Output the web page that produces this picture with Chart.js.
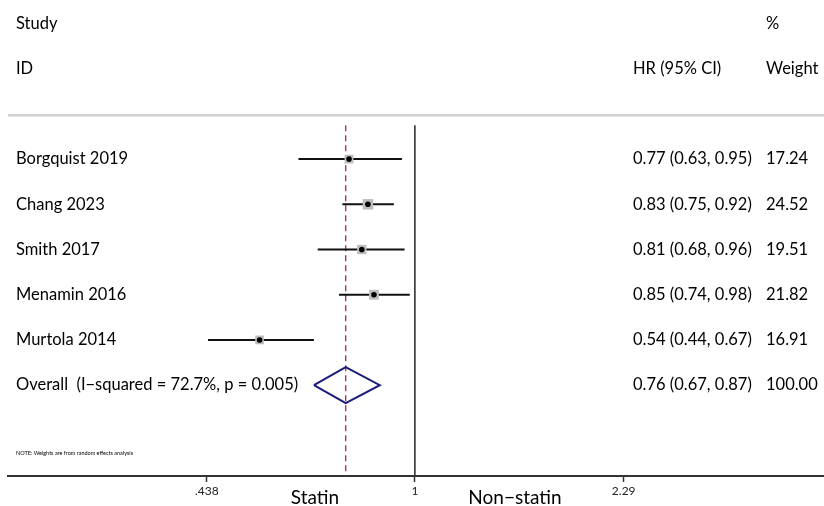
<!DOCTYPE html>
<html>
<head>
<meta charset="utf-8">
<script src="https://cdn.jsdelivr.net/npm/chart.js@4.4.0/dist/chart.umd.min.js"></script>
<style>
	html, body { margin: 0; padding: 0; background: #fff; }
	#wrap { width: 824px; height: 506px; }
</style>
</head>
<body>
<div id="wrap"><canvas id="forest"></canvas></div>
<script>
const studies = ["Borgquist 2019", "Chang 2023", "Smith 2017", "Menamin 2016", "Murtola 2014"];
const hr = [0.77, 0.83, 0.81, 0.85, 0.54];
const lower = [0.63, 0.75, 0.68, 0.74, 0.44];
const upper = [0.95, 0.92, 0.96, 0.98, 0.67];
const weights = [17.24, 24.52, 19.51, 21.82, 16.91];

const overallLabel = "Overall  (I\u2212squared = 72.7%, p = 0.005)";
const overallHr = 0.76;
const overallLower = 0.67;
const overallUpper = 0.87;
const overallWeight = "100.00";

const tickValues = [0.438, 1, 2.29];
const tickLabels = [".438", "1", "2.29"];
const sideLabels = ["Statin", "Non\u2212statin"];
const note = "NOTE: Weights are from random effects analysis";

const FONT = "Lato";
const fmt = (v) => v.toFixed(2);
const overallRow = studies.length + 1;
const bottomRow = 8.01;

// lower order = drawn on top
const ciSets = studies.map((s, i) => ({
	data: [{ x: lower[i], y: i + 1 }, { x: upper[i], y: i + 1 }],
	borderColor: "#111",
	borderWidth: 2,
	pointRadius: 0,
	showLine: true,
	order: 3,
}));

const datasets = [
	// grey header rule
	{
		data: [{ x: 0.19, y: 0.03 }, { x: 5.2, y: 0.03 }],
		borderColor: "#d0d0d0",
		borderWidth: 2.5,
		pointRadius: 0,
		showLine: true,
		order: 6,
	},
	// no-effect line
	{
		data: [{ x: 1, y: 0.25 }, { x: 1, y: bottomRow }],
		borderColor: "#333",
		borderWidth: 1.6,
		pointRadius: 0,
		showLine: true,
		order: 5,
	},
	// overall estimate line
	{
		data: [{ x: overallHr, y: 0.25 }, { x: overallHr, y: bottomRow }],
		borderColor: "#a3303f",
		borderWidth: 1.3,
		borderDash: [6, 4],
		pointRadius: 0,
		showLine: true,
		order: 4,
	},
	...ciSets,
	// weight boxes
	{
		data: hr.map((v, i) => ({ x: v, y: i + 1 })),
		pointStyle: "rect",
		pointRadius: weights.map((w) => 1.5 * Math.sqrt(w)),
		backgroundColor: "#bdbdbd",
		borderWidth: 0,
		showLine: false,
		order: 2,
	},
	// point estimates
	{
		data: hr.map((v, i) => ({ x: v, y: i + 1 })),
		pointStyle: "circle",
		pointRadius: 2.8,
		backgroundColor: "#000",
		borderWidth: 0,
		showLine: false,
		order: 1,
	},
	// overall diamond
	{
		data: [
			{ x: overallLower, y: overallRow },
			{ x: overallHr, y: overallRow - 0.4 },
			{ x: overallUpper, y: overallRow },
			{ x: overallHr, y: overallRow + 0.4 },
			{ x: overallLower, y: overallRow },
		],
		borderColor: "#1b1b7a",
		borderWidth: 2,
		pointRadius: 0,
		showLine: true,
		tension: 0,
		order: 0,
	},
];

const textPlugin = {
	id: "forestText",
	afterDraw(chart) {
		const { ctx } = chart;
		const y = chart.scales.y;
		ctx.save();
		ctx.fillStyle = "#000";
		ctx.textBaseline = "middle";
		ctx.textAlign = "left";
		ctx.font = `16.5px ${FONT}`;

		ctx.fillText("Study", 16, y.getPixelForValue(-2));
		ctx.fillText("ID", 16, y.getPixelForValue(-1));
		ctx.fillText("%", 766, y.getPixelForValue(-2));
		ctx.fillText("HR (95% CI)", 633, y.getPixelForValue(-1));
		ctx.fillText("Weight", 766, y.getPixelForValue(-1));

		studies.forEach((s, i) => {
			const py = y.getPixelForValue(i + 1);
			ctx.fillText(s, 16, py);
			ctx.fillText(`${fmt(hr[i])} (${fmt(lower[i])}, ${fmt(upper[i])})`, 633, py);
			ctx.fillText(fmt(weights[i]), 766, py);
		});

		const po = y.getPixelForValue(overallRow);
		ctx.fillText(overallLabel, 16, po);
		ctx.fillText(`${fmt(overallHr)} (${fmt(overallLower)}, ${fmt(overallUpper)})`, 633, po);
		ctx.fillText(overallWeight, 766, po);

		ctx.font = `5.5px ${FONT}`;
		ctx.fillText(note, 16, y.getPixelForValue(7.5));

		ctx.font = `19px ${FONT}`;
		ctx.textAlign = "center";
		ctx.textBaseline = "alphabetic";
		ctx.fillText(sideLabels[0], 315, 504);
		ctx.fillText(sideLabels[1], 515, 504);
		ctx.restore();
	},
};

const config = {
	type: "scatter",
	data: { datasets },
	options: {
		responsive: true,
		maintainAspectRatio: false,
		animation: false,
		layout: { autoPadding: false, padding: { left: 8, right: 0, top: 0, bottom: 0 } },
		plugins: {
			legend: { display: false },
			tooltip: { enabled: false },
		},
		scales: {
			x: {
				type: "logarithmic",
				min: 0.199,
				max: 5.07,
				afterBuildTicks: (scale) => {
					scale.ticks = tickValues.map((v) => ({ value: v }));
				},
				afterFit: (scale) => {
					scale.height = 30;
				},
				ticks: {
					autoSkip: false,
					maxRotation: 0,
					padding: 2,
					color: "#222",
					font: { family: FONT, size: 12 },
					callback: (v, i) => tickLabels[i],
				},
				grid: {
					drawOnChartArea: false,
					drawTicks: true,
					tickLength: 6,
					color: "#333",
					tickWidth: 1.5,
				},
				border: { display: true, color: "#333", width: 2 },
			},
			y: {
				type: "linear",
				display: false,
				reverse: true,
				min: -2.52,
				max: bottomRow,
			},
		},
	},
	plugins: [textPlugin],
};

new Chart(document.querySelector("#forest"), config);
</script>
</body>
</html>
